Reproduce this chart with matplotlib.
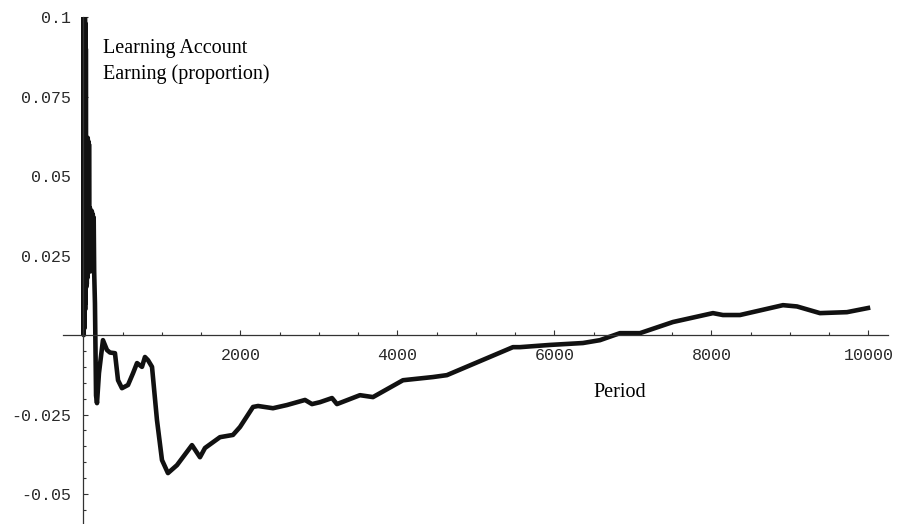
import matplotlib
matplotlib.use("Agg")
import matplotlib.pyplot as plt
from matplotlib.ticker import FixedLocator, FixedFormatter, MultipleLocator

# running proportion of learning-account earnings over the periods
period = [0, 3, 6, 9, 12, 15, 18, 21, 24, 27, 30, 34, 38, 42, 46, 50, 54, 58, 62, 66,
          70, 76, 82, 88, 94, 100, 106, 112, 118, 124, 130, 136, 146, 160, 172, 197,
          248, 299, 338, 401, 440, 490, 567, 631, 682, 745, 783, 822, 873, 936, 1000,
          1076, 1191, 1382, 1484, 1548, 1739, 1904, 1994, 2160, 2224, 2414, 2592, 2822,
          2911, 3013, 3166, 3229, 3522, 3688, 4070, 4452, 4630, 5471, 5560, 5943, 6363,
          6580, 6834, 7089, 7509, 8019, 8146, 8363, 8911, 9089, 9382, 9726, 9994]
earning = [0.1, 0.0, 0.1, 0.002, 0.1, 0.005, 0.1, 0.008, 0.098, 0.01, 0.09, 0.015,
           0.062, 0.016, 0.062, 0.018, 0.062, 0.02, 0.061, 0.02, 0.06, 0.021, 0.04,
           0.02, 0.039, 0.021, 0.039, 0.021, 0.038, 0.021, 0.037, 0.02, 0.01, -0.019,
           -0.0214, -0.012, -0.0016, -0.0047, -0.0055, -0.0057, -0.0142, -0.0167,
           -0.0157, -0.012, -0.0088, -0.010, -0.0069, -0.0079, -0.0100, -0.0267,
           -0.0393, -0.0434, -0.0409, -0.0346, -0.0384, -0.0355, -0.0321, -0.0314,
           -0.0289, -0.0226, -0.0223, -0.0230, -0.0220, -0.0204, -0.0217, -0.0211,
           -0.0198, -0.0217, -0.0189, -0.0195, -0.0142, -0.0132, -0.0126, -0.0038,
           -0.0038, -0.0031, -0.0025, -0.0016, 0.0006, 0.0006, 0.0041, 0.0069, 0.0063,
           0.0063, 0.0094, 0.0090, 0.0069, 0.0072, 0.0085]

x_ticks = [2000, 4000, 6000, 8000, 10000]
x_labels = ["2000", "4000", "6000", "8000", "10000"]
y_ticks = [0.1, 0.075, 0.05, 0.025, -0.025, -0.05]
y_labels = ["0.1", "0.075", "0.05", "0.025", "-0.025", "-0.05"]

fig = plt.figure(figsize=(8.99, 5.24), dpi=100)
ax = fig.add_axes([63 / 899, 0.0, 825 / 899, 507 / 524])
ax.plot(period, earning, color="#111111", linewidth=3.3, solid_joinstyle="round")

ax.set_xlim(-261, 10249)
ax.set_ylim(-0.0594, 0.1)

# axes crossing at the origin, Mathematica style
for side in ("top", "right"):
    ax.spines[side].set_visible(False)
ax.spines["left"].set_position(("data", 0))
ax.spines["bottom"].set_position(("data", 0))
for side in ("left", "bottom"):
    ax.spines[side].set_linewidth(0.9)
    ax.spines[side].set_color("#333333")

ax.xaxis.set_major_locator(FixedLocator(x_ticks))
ax.xaxis.set_major_formatter(FixedFormatter(x_labels))
ax.xaxis.set_minor_locator(MultipleLocator(500))
ax.yaxis.set_major_locator(FixedLocator(y_ticks))
ax.yaxis.set_major_formatter(FixedFormatter(y_labels))
ax.yaxis.set_minor_locator(MultipleLocator(0.005))

ax.tick_params(axis="both", which="major", direction="in", length=3.5, width=0.8,
               color="#333333", labelsize=12, labelcolor="#2a2a2a")
ax.tick_params(axis="both", which="minor", direction="in", length=2.5, width=0.8,
               color="#333333")
ax.tick_params(axis="x", which="major", pad=9)
ax.tick_params(axis="y", which="major", pad=9)
for lbl in ax.get_xticklabels() + ax.get_yticklabels():
    lbl.set_family("Liberation Mono")

ax.text(248, 0.0887, "Learning Account", family="Liberation Serif",
        fontsize=14.5, va="baseline", ha="left")
ax.text(248, 0.0805, "Earning (proportion)", family="Liberation Serif",
        fontsize=14.5, va="baseline", ha="left")
ax.text(6491, -0.0195, "Period", family="Liberation Serif", fontsize=14.5,
        va="baseline", ha="left")

fig.savefig("out.png", dpi=100)
